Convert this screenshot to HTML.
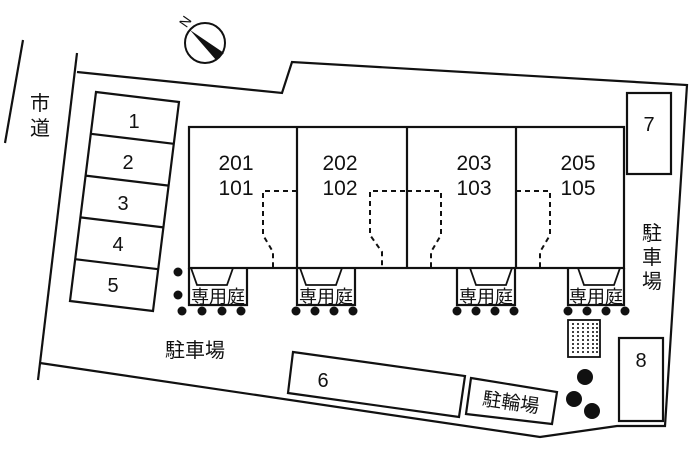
<!DOCTYPE html>
<html><head><meta charset="utf-8"><style>
html,body{margin:0;padding:0;background:#fff;}
svg{display:block;}
text{font-family:"Liberation Sans","Noto Sans CJK JP",sans-serif;fill:#111;}
</style></head><body>
<svg width="700" height="466" viewBox="0 0 700 466" xmlns="http://www.w3.org/2000/svg">
<g stroke="#111" fill="none" stroke-width="2.2">
<line x1="23" y1="40" x2="5" y2="143"/>
<line x1="77" y1="53" x2="38" y2="380"/>
<polyline points="77,72 282,93 292,62 687,85 665,426 617,426 540,437 40,363"/>
<polygon points="96,92 179,102 153,311 70,301"/>
<line x1="90.8" y1="133.8" x2="173.8" y2="143.8"/>
<line x1="85.6" y1="175.6" x2="168.6" y2="185.6"/>
<line x1="80.4" y1="217.4" x2="163.4" y2="227.4"/>
<line x1="75.2" y1="259.2" x2="158.2" y2="269.2"/>
<rect x="189" y="127" width="435" height="141"/>
<line x1="297" y1="127" x2="297" y2="268"/>
<line x1="407" y1="127" x2="407" y2="268"/>
<line x1="516" y1="127" x2="516" y2="268"/>
<polyline points="189,268 189,305 247,305 247,268"/>
<polyline points="297,268 297,305 355,305 355,268"/>
<polyline points="457,268 457,305 515,305 515,268"/>
<polyline points="568,268 568,305 624,305 624,268"/>
<g stroke-width="1.8">
<polyline points="191,268 197,285 227,285 233,268"/>
<polyline points="300,268 306,285 336,285 342,268"/>
<polyline points="470,268 476,285 506,285 512,268"/>
<polyline points="578,268 584,285 614,285 620,268"/>
</g>
<g stroke-width="2" stroke-dasharray="5,4">
<polyline points="297,191 263,191 263,235 273,252 273,268"/>
<polyline points="405,191 370,191 370,235 382,252 382,268"/>
<polyline points="407,191 441,191 441,235 431,252 431,268"/>
<polyline points="516,191 550,191 550,235 540,252 540,268"/>
</g>
<rect x="627" y="93" width="44" height="81"/>
<rect x="619" y="338" width="44" height="83"/>
<polygon points="293,352 465,376 459,417 288,393"/>
<polygon points="471,378 557,392 552,424 466,414"/>
<rect x="568" y="320" width="32" height="37" stroke-width="1.8"/>
</g>
<g stroke="#111" stroke-width="1.6" stroke-dasharray="2,2">
<line x1="573" y1="323" x2="573" y2="355"/><line x1="578" y1="323" x2="578" y2="355"/>
<line x1="583" y1="323" x2="583" y2="355"/><line x1="588" y1="323" x2="588" y2="355"/>
<line x1="593" y1="323" x2="593" y2="355"/><line x1="597" y1="323" x2="597" y2="355"/>
</g>
<g fill="#111">
<circle cx="178" cy="272" r="4.5"/><circle cx="178" cy="295" r="4.5"/>
<circle cx="182" cy="311" r="4.5"/><circle cx="202" cy="311" r="4.5"/><circle cx="222" cy="311" r="4.5"/><circle cx="241" cy="311" r="4.5"/>
<circle cx="296" cy="311" r="4.5"/><circle cx="315" cy="311" r="4.5"/><circle cx="334" cy="311" r="4.5"/><circle cx="353" cy="311" r="4.5"/>
<circle cx="457" cy="311" r="4.5"/><circle cx="476" cy="311" r="4.5"/><circle cx="495" cy="311" r="4.5"/><circle cx="514" cy="311" r="4.5"/>
<circle cx="568" cy="311" r="4.5"/><circle cx="587" cy="311" r="4.5"/><circle cx="606" cy="311" r="4.5"/><circle cx="625" cy="311" r="4.5"/>
<circle cx="585" cy="377" r="8"/><circle cx="574" cy="399" r="8"/><circle cx="592" cy="411" r="8"/>
</g>
<circle cx="205" cy="43" r="20" fill="none" stroke="#111" stroke-width="2"/>
<polygon points="190,30 224,53 216,60" fill="#111"/>
<text x="186" y="26" font-size="14" transform="rotate(-55 186 22)" text-anchor="middle">N</text>
<text x="40" y="110" font-size="20" text-anchor="middle">市</text>
<text x="40" y="135" font-size="20" text-anchor="middle">道</text>
<g font-size="20" text-anchor="middle">
<text x="134" y="128">1</text><text x="128" y="169">2</text><text x="123" y="210">3</text><text x="118" y="251">4</text><text x="113" y="292">5</text>
<text x="649" y="131">7</text><text x="641" y="367">8</text><text x="323" y="387">6</text>
</g>
<g font-size="21" text-anchor="middle">
<text x="236" y="170">201</text><text x="236" y="195">101</text>
<text x="340" y="170">202</text><text x="340" y="195">102</text>
<text x="474" y="170">203</text><text x="474" y="195">103</text>
<text x="578" y="170">205</text><text x="578" y="195">105</text>
</g>
<g font-size="18" text-anchor="middle">
<text x="218" y="303">専用庭</text><text x="326" y="303">専用庭</text>
<text x="486" y="303">専用庭</text><text x="596" y="303">専用庭</text>
</g>
<text x="195" y="357" font-size="20" text-anchor="middle">駐車場</text>
<g font-size="20" text-anchor="middle">
<text x="652" y="240">駐</text><text x="652" y="264">車</text><text x="652" y="288">場</text>
</g>
<text x="511" y="409" font-size="19" text-anchor="middle" transform="rotate(8 511 402)">駐輪場</text>
</svg>
</body></html>
